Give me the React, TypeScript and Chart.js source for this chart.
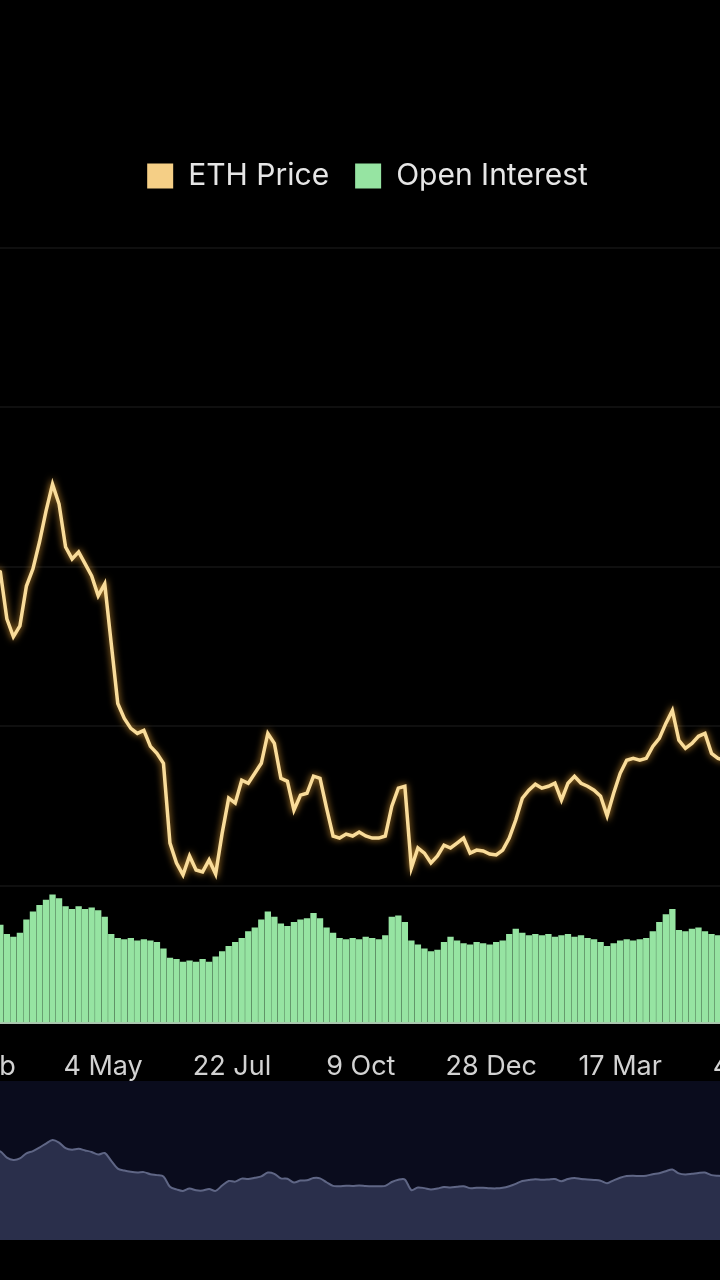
import React, { useEffect, useRef } from 'react';
import { Chart, registerables } from 'chart.js';

Chart.register(...registerables);

// Sample dates: day offsets from 14 Feb 2022
const DAYS = [
  12, 16, 20, 24, 28, 32, 36, 40, 44, 48, 52, 56, 60, 64, 68, 72, 76, 80, 84, 88,
  92, 96, 100, 104, 108, 112, 116, 120, 124, 128, 132, 136, 140, 144, 148, 152, 156, 160, 164, 168,
  172, 176, 180, 184, 188, 192, 196, 200, 204, 208, 212, 216, 220, 224, 228, 232, 236, 240, 244, 248,
  252, 256, 260, 264, 268, 272, 276, 280, 284, 288, 292, 296, 300, 304, 308, 312, 316, 320, 324, 328,
  332, 336, 340, 344, 348, 352, 356, 360, 364, 368, 372, 376, 380, 384, 388, 392, 396, 400, 404, 408,
  412, 416, 420, 424, 428, 432, 436, 440, 444, 448, 452, 456, 460,
];

// ETH price (USD)
const ETH_PRICE = [
  2990, 2969, 2675, 2562, 2631, 2880, 2988, 3156, 3350, 3519, 3394, 3125, 3050, 3094, 3019, 2944, 2819, 2894, 2519, 2144,
  2050, 1988, 1956, 1975, 1875, 1831, 1769, 1269, 1144, 1069, 1188, 1100, 1088, 1163, 1075, 1331, 1550, 1519, 1663, 1644,
  1706, 1769, 1956, 1894, 1675, 1656, 1475, 1569, 1581, 1688, 1675, 1488, 1313, 1300, 1325, 1313, 1338, 1313, 1300, 1300,
  1313, 1500, 1613, 1625, 1113, 1238, 1206, 1144, 1188, 1256, 1238, 1269, 1300, 1206, 1225, 1219, 1200, 1194, 1225, 1300,
  1413, 1550, 1600, 1638, 1613, 1625, 1644, 1538, 1644, 1688, 1644, 1625, 1600, 1563, 1440, 1581, 1706, 1788, 1800, 1788,
  1800, 1875, 1925, 2019, 2100, 1913, 1863, 1894, 1938, 1956, 1831, 1800, 1788,
];

// Open interest (USD bn)
const OPEN_INTEREST = [
  7.2, 7.4, 6.7, 6.5, 6.8, 7.8, 8.4, 8.9, 9.3, 9.7, 9.4, 8.8, 8.6, 8.8, 8.6, 8.7, 8.5, 8.0, 6.7, 6.4,
  6.3, 6.4, 6.2, 6.3, 6.2, 6.1, 5.6, 4.9, 4.8, 4.6, 4.7, 4.6, 4.8, 4.6, 5.0, 5.4, 5.8, 6.1, 6.4, 6.9,
  7.2, 7.8, 8.4, 8.0, 7.5, 7.3, 7.6, 7.8, 7.9, 8.3, 7.9, 7.2, 6.8, 6.4, 6.3, 6.4, 6.3, 6.5, 6.4, 6.3,
  6.6, 8.0, 8.1, 7.6, 6.2, 5.9, 5.6, 5.4, 5.5, 6.1, 6.5, 6.2, 6.0, 5.9, 6.1, 6.0, 5.9, 6.1, 6.2, 6.7,
  7.1, 6.8, 6.6, 6.7, 6.6, 6.7, 6.5, 6.6, 6.7, 6.5, 6.6, 6.4, 6.3, 6.1, 5.8, 6.0, 6.2, 6.3, 6.2, 6.3,
  6.4, 6.9, 7.6, 8.2, 8.6, 7.0, 6.9, 7.1, 7.2, 6.9, 6.7, 6.6, 6.7,
];

const TICK_DAYS = [0, 79, 158, 237, 317, 396, 475];
const TICK_LABELS = ['14 Feb', '4 May', '22 Jul', '9 Oct', '28 Dec', '17 Mar', '4 Jun'];
const PRICE_GRID = [1000, 2000, 3000, 4000, 5000];

const FONT = 'Inter, "Noto Sans", "DejaVu Sans", sans-serif';

const glowPlugin = {
  id: 'priceGlow',
  beforeDatasetDraw(chart: any, args: any) {
    if (args.index === 0) {
      const c = chart.ctx;
      c.save();
      c.shadowColor = 'rgba(235,165,55,0.9)';
      c.shadowBlur = 7;
    }
  },
  afterDatasetDraw(chart: any, args: any) {
    if (args.index === 0) chart.ctx.restore();
  },
};

export default function App() {
  const mainRef = useRef<HTMLCanvasElement>(null);
  const navRef = useRef<HTMLCanvasElement>(null);

  useEffect(() => {
    const pricePts = DAYS.map((d, i) => ({ x: d, y: ETH_PRICE[i] }));
    const oiPts = DAYS.map((d, i) => ({ x: d, y: OPEN_INTEREST[i] }));

    const main = new Chart(mainRef.current as HTMLCanvasElement, {
      type: 'bar',
      data: {
        datasets: [
          {
            type: 'line',
            label: 'ETH Price',
            data: pricePts,
            borderColor: '#f9dc9a',
            backgroundColor: '#f5cf86',
            borderWidth: 3.5,
            pointRadius: 0,
            tension: 0,
            yAxisID: 'y',
            order: 1,
          } as any,
          {
            type: 'bar',
            label: 'Open Interest',
            data: oiPts,
            backgroundColor: '#96e4a2',
            borderWidth: 0,
            yAxisID: 'y1',
            order: 2,
            barPercentage: 0.97,
            categoryPercentage: 1,
          } as any,
        ],
      },
      options: {
        responsive: false,
        animation: false,
        devicePixelRatio: 1,
        layout: { padding: { top: 135, bottom: 6.1, left: 15, right: 0 } },
        plugins: {
          tooltip: { enabled: false },
          legend: {
            position: 'top',
            labels: {
              color: '#e6e6e6',
              font: { family: FONT, size: 30 },
              boxWidth: 26,
              boxHeight: 25,
              padding: 26,
              generateLabels: (chart: any) =>
                (Chart.defaults.plugins.legend.labels.generateLabels as any)(chart).map((l: any) => ({
                  ...l,
                  lineWidth: 0,
                })),
            },
          },
        },
        scales: {
          x: {
            type: 'linear',
            min: -73.1,
            max: 555.3,
            offset: false,
            grid: { display: false, drawTicks: false },
            border: { display: true, color: 'rgba(215,245,220,0.8)', width: 2 },
            afterBuildTicks: (scale: any) => {
              scale.ticks = TICK_DAYS.map((v) => ({ value: v }));
            },
            ticks: {
              autoSkip: false,
              maxRotation: 0,
              padding: 28,
              color: '#d2d2d2',
              font: { family: FONT, size: 27 },
              callback: (_v: any, i: number) => TICK_LABELS[i],
            },
          },
          y: {
            type: 'linear',
            position: 'left',
            min: 144,
            max: 5293.75,
            afterBuildTicks: (scale: any) => {
              scale.ticks = PRICE_GRID.map((v) => ({ value: v }));
            },
            ticks: { display: false },
            grid: { color: 'rgba(255,255,255,0.06)', lineWidth: 2, drawTicks: false },
            border: { display: false },
          },
          y1: {
            type: 'linear',
            position: 'right',
            min: 0,
            max: 62.2,
            display: false,
          },
        },
      } as any,
      plugins: [glowPlugin],
    });

    const nav = new Chart(navRef.current as HTMLCanvasElement, {
      type: 'line',
      data: {
        datasets: [
          {
            label: 'ETH Price',
            data: pricePts,
            borderColor: '#5f6685',
            backgroundColor: '#2a2f4b',
            borderWidth: 2,
            pointRadius: 0,
            tension: 0.3,
            fill: 'start',
          },
        ],
      },
      options: {
        responsive: false,
        animation: false,
        devicePixelRatio: 1,
        layout: { padding: 0 },
        plugins: { legend: { display: false }, tooltip: { enabled: false } },
        scales: {
          x: { type: 'linear', min: -33.25, max: 506.3, display: false },
          y: { type: 'linear', min: -1288, max: 6356, display: false },
        },
      } as any,
    });

    return () => {
      main.destroy();
      nav.destroy();
    };
  }, []);

  return (
    <div
      style={{
        position: 'absolute',
        left: 0,
        top: 0,
        width: 720,
        height: 1280,
        overflow: 'hidden',
        background: '#000',
      }}
    >
      <div style={{ position: 'absolute', left: -160, top: 0, width: 1040, height: 1117 }}>
        <canvas ref={mainRef} width={1040} height={1117} style={{ display: 'block' }} />
      </div>
      <div
        style={{
          position: 'absolute',
          left: -80,
          top: 1081,
          width: 880,
          height: 159,
          background: '#0a0c1d',
        }}
      >
        <canvas ref={navRef} width={880} height={159} style={{ display: 'block' }} />
      </div>
    </div>
  );
}
